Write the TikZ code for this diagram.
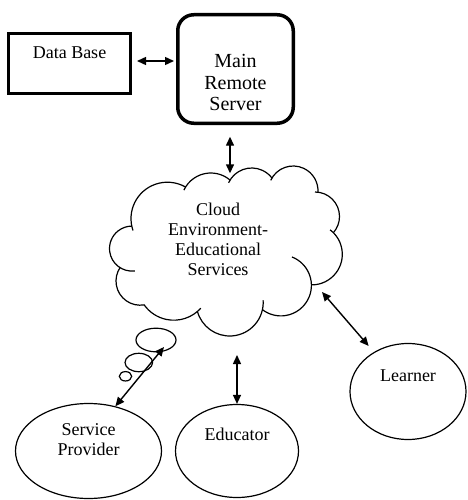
\documentclass[tikz,border=0pt]{standalone}
\usepackage{fontspec}
\setmainfont{Liberation Serif}
\usetikzlibrary{arrows.meta,shapes.geometric}
\begin{document}
\begin{tikzpicture}[x=1pt,y=-1pt,
  lbl/.style={align=center, font=\fontsize{18}{20}\selectfont},
  boxstyle/.style={draw, line width=3pt, minimum width=122pt, minimum height=60pt, inner sep=0pt},
  srvstyle/.style={draw, line width=3.5pt, rounded corners=16pt, minimum width=115.5pt, minimum height=108.5pt, inner sep=0pt},
  oval/.style={draw, ellipse, line width=1.2pt, inner sep=0pt},
  arr/.style={{Triangle[length=9pt,width=8pt]}-{Triangle[length=9pt,width=8pt]}, line width=1.4pt},
  cloudline/.style={line width=1.2pt}]
\useasboundingbox (0,0) rectangle (467,500);

% boxes
\node[boxstyle, label={[lbl, yshift=10.5pt]center:Data Base}] (db) at (69.5,63.5) {};
\node[srvstyle, label={[lbl, font=\fontsize{20}{21.5}\selectfont, yshift=-13.5pt]center:Main\\Remote\\Server}] (srv) at (235.5,69) {};

% ovals
\node[oval, minimum width=146pt, minimum height=95pt, label={[lbl, yshift=11.5pt]center:Service\\Provider}] (sp) at (88.5,451) {};
\node[oval, minimum width=123pt, minimum height=93pt, label={[lbl, yshift=17pt]center:Educator}] (edu) at (237,451) {};
\node[oval, minimum width=116pt, minimum height=96pt, label={[lbl, yshift=15.5pt]center:Learner}] (lrn) at (408,391.5) {};

% cloud
\foreach \cx/\cy/\r/\a/\b in {
  167.4/218.6/36.4/161/300.5,
  210.8/202.7/29.7/205/310.7,
  251.7/193.5/25.5/205/323,
  293.2/190.8/24.8/205/363.7,
  315.0/216.5/24.5/270/402,
  311.7/254.3/30.6/307/451.2,
  280.9/285.4/30.5/-68.7/127.6,
  229.7/302.5/33.5/-4/165.1,
  173.8/283.9/36.3/42/145.1,
  140.2/281.0/24.2/80/214.1,
  132.0/248.6/22.5/82.4/270}
  \draw[cloudline] (\cx,\cy) ++(\a:\r) arc[start angle=\a, end angle=\b, radius=\r];
\node[lbl] (cloud) at (218,239.5) {Cloud\\Environment-\\Educational\\Services};

% thought bubbles
\draw[cloudline] (156,340) ellipse[x radius=20, y radius=11.8];
\draw[cloudline] (138.8,362.5) ellipse[x radius=13.8, y radius=9.2];
\draw[cloudline] (125.5,376.3) ellipse[x radius=6.2, y radius=4.7];

% connector ends
\coordinate (cltop) at (230,180);
\coordinate (clsp) at (164,347);
\coordinate (cledu) at (237,355);
\coordinate (cllrn) at (322,292);
\coordinate (dbsrv) at (0,61);

% connectors
\draw[arr, shorten <=5pt, shorten >=2pt] (db.east |- dbsrv) -- (srv.west |- dbsrv);
\draw[arr, shorten <=11.7pt, shorten >=6.7pt] (srv.south -| cltop) -- (cltop);
\draw[arr] (clsp) -- (sp.59);
\draw[arr] (cledu) -- (edu.north);
\draw[arr, shorten >=8pt] (cllrn) -- (lrn);
\end{tikzpicture}
\end{document}
